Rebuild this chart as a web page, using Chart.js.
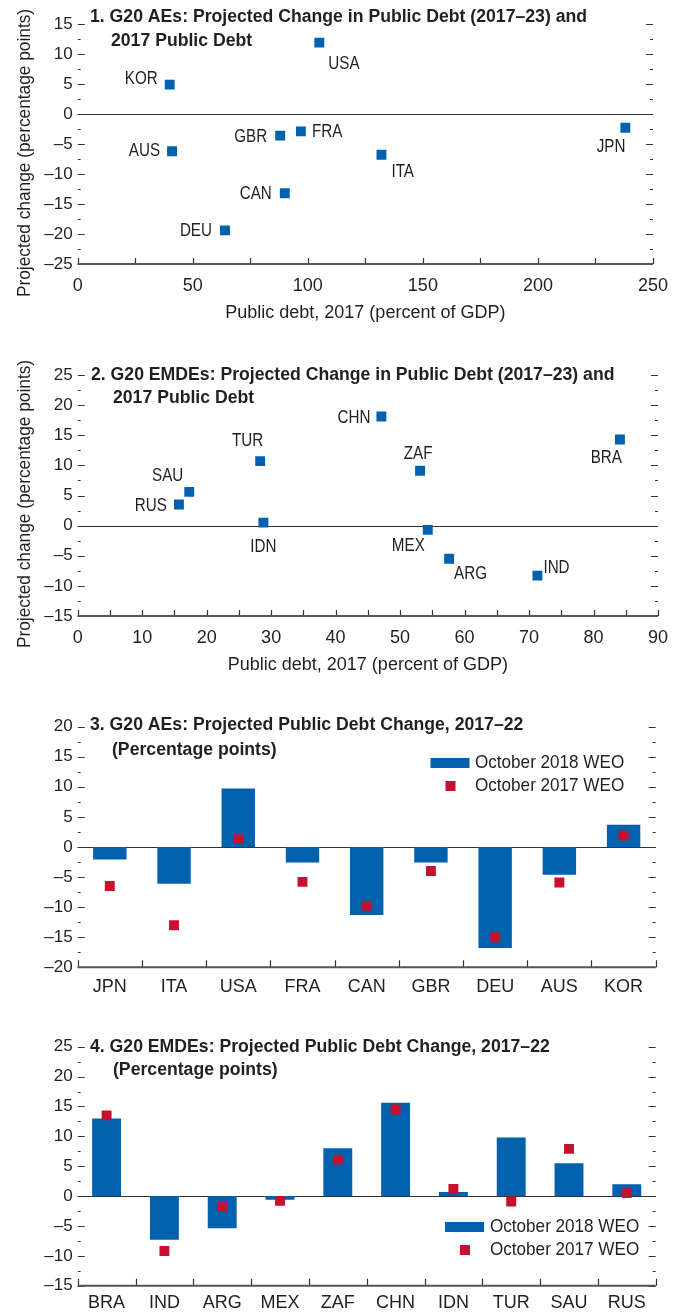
<!DOCTYPE html>
<html>
<head>
<meta charset="utf-8">
<script src="https://cdn.jsdelivr.net/npm/chart.js@4.4.0/dist/chart.umd.min.js"></script>
<style>
  body { margin: 0; background: #fff; width: 679px; height: 1312px; position: relative; overflow: hidden; }
  canvas { position: absolute; left: 0; }
</style>
</head>
<body>
<canvas id="aeScatter" width="679" height="330" style="top:0px"></canvas>
<canvas id="emScatter" width="679" height="360" style="top:330px"></canvas>
<canvas id="aeBars" width="679" height="320" style="top:690px"></canvas>
<canvas id="emBars" width="679" height="302" style="top:1010px"></canvas>
<script>
// panel 1: advanced economies, 2017 debt vs projected change 2017-23
const aeCountries = ['KOR', 'USA', 'AUS', 'GBR', 'FRA', 'CAN', 'DEU', 'ITA', 'JPN'];
const aeDebt2017 = [40, 105, 41, 88, 97, 90, 64, 132, 238];
const aeChange = [4.9, 11.9, -6.2, -3.6, -2.9, -13.2, -19.4, -6.8, -2.3];

// panel 2: emerging economies
const emCountries = ['RUS', 'SAU', 'TUR', 'IDN', 'CHN', 'ZAF', 'BRA', 'MEX', 'ARG', 'IND'];
const emDebt2017 = [15.7, 17.3, 28.3, 28.8, 47.1, 53.1, 84.1, 54.3, 57.6, 71.3];
const emChange = [3.5, 5.6, 10.7, 0.5, 18.1, 9.1, 14.3, -0.7, -5.5, -8.3];

// panel 3: AEs, projected change 2017-22, two WEO vintages
const aeBarCountries = ['JPN', 'ITA', 'USA', 'FRA', 'CAN', 'GBR', 'DEU', 'AUS', 'KOR'];
const aeWeo2018 = [-2.1, -6.1, 9.7, -2.6, -11.3, -2.6, -16.8, -4.6, 3.7];
const aeWeo2017 = [-6.5, -13.0, 1.3, -5.8, -9.8, -4.0, -15.0, -5.9, 1.9];

// panel 4: EMDEs, projected change 2017-22
const emBarCountries = ['BRA', 'IND', 'ARG', 'MEX', 'ZAF', 'CHN', 'IDN', 'TUR', 'SAU', 'RUS'];
const emWeo2018 = [13.0, -7.3, -5.4, -0.6, 8.0, 15.6, 0.7, 9.8, 5.5, 2.0];
const emWeo2017 = [13.5, -9.2, -1.8, -0.8, 6.1, 14.5, 1.2, -0.9, 7.9, 0.5];

const seriesNames = ['October 2018 WEO', 'October 2017 WEO'];

// where each country name sits relative to its marker: [dx, dy, align]
const aePlace = [[-12, -6, 'right'], [9, 21, 'left'], [-12, 0, 'right'], [-13, 1, 'right'], [11, 0, 'left'],
  [-13, 1, 'right'], [-13, 0, 'right'], [10, 17, 'left'], [0, 19, 'right']];
const emPlace = [[-12, 1, 'right'], [-6, -16, 'right'], [3, -20, 'right'], [0, 24, 'center'], [-11, 1, 'right'],
  [-2, -17, 'center'], [2, 18, 'right'], [-3, 16, 'right'], [5, 15, 'left'], [6, -8, 'left']];

const FONT = '"Liberation Sans", Arial, sans-serif';
const INK = '#231f20';
const BLUE = '#0061af';
const RED = '#c8102e';

Chart.defaults.font.family = FONT;
Chart.defaults.color = INK;

const dashMinus = (v) => (v < 0 ? '\u2013' + Math.abs(v) : String(v));

// the source uses a condensed face; squeeze our own text horizontally
function squeezed(ctx, text, x, y, align, sx, rot) {
  ctx.save();
  ctx.translate(x, y);
  if (rot) ctx.rotate(rot);
  ctx.scale(sx, 1);
  ctx.textAlign = align;
  ctx.fillText(text, 0, 0);
  ctx.restore();
}

// zero line, bottom rule and the little inward tick marks
function frame(cfg) {
  return {
    id: 'frame',
    beforeDatasetsDraw(chart) {
      const { ctx, chartArea: a, scales: { y } } = chart;
      const y0 = Math.round(y.getPixelForValue(0)) + 0.5;
      ctx.save();
      ctx.strokeStyle = '#333';
      ctx.lineWidth = 1.2;
      ctx.beginPath();
      ctx.moveTo(a.left, y0);
      ctx.lineTo(a.right, y0);
      ctx.stroke();
      ctx.restore();
    },
    afterDraw(chart) {
      const { ctx, chartArea: a, scales: { x, y } } = chart;
      ctx.save();
      ctx.strokeStyle = '#333';
      ctx.lineWidth = 1.2;
      ctx.beginPath();
      for (let v = y.min; v <= y.max + 1e-6; v += 2.5) {
        const py = Math.round(y.getPixelForValue(v)) + 0.5;
        const len = Math.abs(v % 5) < 1e-6 ? 7 : 3;
        ctx.moveTo(a.left, py); ctx.lineTo(a.left + len, py);
        ctx.moveTo(a.right, py); ctx.lineTo(a.right - len, py);
      }
      const xs = [];
      if (cfg.xMinor) {
        for (let v = x.min; v <= x.max + 1e-6; v += cfg.xMinor) xs.push(x.getPixelForValue(v));
      } else {
        for (let i = 0; i <= chart.data.labels.length; i++) xs.push(x.getPixelForValue(i - 0.5));
      }
      xs.forEach((px) => {
        px = Math.round(px) + 0.5;
        ctx.moveTo(px, a.bottom); ctx.lineTo(px, a.bottom - cfg.xTick);
      });
      ctx.stroke();
      ctx.strokeStyle = '#555';
      ctx.lineWidth = 2;
      ctx.beginPath();
      ctx.moveTo(a.left, a.bottom);
      ctx.lineTo(a.right, a.bottom);
      ctx.stroke();
      ctx.restore();
    }
  };
}

function panelTitle(lines) {
  return {
    id: 'panelTitle',
    afterDraw(chart) {
      const { ctx } = chart;
      ctx.save();
      ctx.font = 'bold 18px ' + FONT;
      ctx.fillStyle = INK;
      ctx.textBaseline = 'middle';
      lines.forEach(([text, x, y]) => squeezed(ctx, text, x, y, 'left', 0.98));
      ctx.restore();
    }
  };
}

function sideTitle(text, cx, cy) {
  return {
    id: 'sideTitle',
    afterDraw(chart) {
      const { ctx } = chart;
      ctx.save();
      ctx.font = '18px ' + FONT;
      ctx.fillStyle = INK;
      ctx.textBaseline = 'middle';
      squeezed(ctx, text, cx, cy, 'center', 0.96, -Math.PI / 2);
      ctx.restore();
    }
  };
}

function pointNames(place) {
  return {
    id: 'pointNames',
    afterDatasetsDraw(chart) {
      const { ctx } = chart;
      const names = chart.data.labels;
      ctx.save();
      ctx.font = '19px ' + FONT;
      ctx.fillStyle = INK;
      ctx.textBaseline = 'middle';
      chart.getDatasetMeta(0).data.forEach((pt, i) => {
        const [dx, dy, align] = place[i];
        squeezed(ctx, names[i], pt.x + dx, pt.y + dy, align, 0.8);
      });
      ctx.restore();
    }
  };
}

function weoLegend(pos) {
  return {
    id: 'weoLegend',
    afterDraw(chart) {
      const { ctx } = chart;
      const ds = chart.data.datasets;
      ctx.save();
      ctx.font = '19px ' + FONT;
      ctx.fillStyle = INK;
      ctx.textBaseline = 'middle';
      squeezed(ctx, ds[0].label, pos.textX, pos.y1, 'left', 0.9);
      squeezed(ctx, ds[1].label, pos.textX, pos.y2, 'left', 0.9);
      ctx.fillStyle = BLUE;
      ctx.fillRect(pos.boxX, pos.y1 - 5, 39, 10);
      ctx.fillStyle = RED;
      ctx.fillRect(pos.boxX + 15, pos.y2 - 5, 10, 10);
      ctx.restore();
    }
  };
}

function scatterPanel(id, names, debt, change, place, o) {
  new Chart(document.getElementById(id), {
    type: 'scatter',
    data: {
      labels: names,
      datasets: [{
        data: debt.map((x, i) => ({ x, y: change[i] })),
        backgroundColor: BLUE,
        borderWidth: 0,
        pointStyle: 'rect',
        pointRadius: 7,
        pointHoverRadius: 7
      }]
    },
    options: {
      responsive: false,
      animation: false,
      events: [],
      layout: { padding: { top: o.top, right: o.right, left: 0, bottom: 0 } },
      plugins: { legend: { display: false }, tooltip: { enabled: false } },
      scales: {
        x: {
          type: 'linear', min: 0, max: o.xMax,
          grid: { display: false, drawTicks: false }, border: { display: false },
          ticks: { stepSize: o.xStep, padding: 11, font: { size: 18 }, maxRotation: 0 },
          title: { display: true, text: 'Public debt, 2017 (percent of GDP)', font: { size: 18 }, padding: { top: 0, bottom: o.titleBottom } },
          afterFit: (s) => { s.height = o.xHeight; }
        },
        y: {
          min: o.yMin, max: o.yMax,
          grid: { display: false, drawTicks: false }, border: { display: false },
          ticks: { stepSize: 5, padding: 5, font: { size: 17 }, callback: dashMinus },
          afterFit: (s) => { s.width = 77.7; }
        }
      }
    },
    plugins: [frame({ xMinor: o.xMinor, xTick: 6 }), pointNames(place), panelTitle(o.title),
      sideTitle('Projected change (percentage points)', 25, o.yTitleY)]
  });
}

function barPanel(id, cats, v18, v17, o) {
  new Chart(document.getElementById(id), {
    data: {
      labels: cats,
      datasets: [
        { type: 'bar', label: seriesNames[0], data: v18, backgroundColor: BLUE, barPercentage: o.barPct, categoryPercentage: 1, order: 2 },
        { type: 'line', label: seriesNames[1], data: v17, showLine: false, pointStyle: 'rect', pointRadius: 7,
          pointHoverRadius: 7, pointBackgroundColor: RED, pointBorderWidth: 0, borderWidth: 0, order: 1 }
      ]
    },
    options: {
      responsive: false,
      animation: false,
      events: [],
      layout: { padding: { top: o.top, right: o.right, left: 0, bottom: 0 } },
      plugins: { legend: { display: false }, tooltip: { enabled: false } },
      scales: {
        x: {
          type: 'category', offset: true,
          grid: { display: false, drawTicks: false }, border: { display: false },
          ticks: { padding: o.labelPad, font: { size: 18 }, maxRotation: 0, autoSkip: false },
          afterFit: (s) => { s.height = o.xHeight; }
        },
        y: {
          min: o.yMin, max: o.yMax,
          grid: { display: false, drawTicks: false }, border: { display: false },
          ticks: { stepSize: 5, padding: 5, font: { size: 17 }, callback: dashMinus },
          afterFit: (s) => { s.width = 77.7; }
        }
      }
    },
    plugins: [frame({ xMinor: 0, xTick: 7 }), weoLegend(o.legend), panelTitle(o.title)]
  });
}

scatterPanel('aeScatter', aeCountries, aeDebt2017, aeChange, aePlace, {
  top: 24, right: 25, xMax: 250, xStep: 50, xMinor: 25, yMin: -25, yMax: 15, xHeight: 66, titleBottom: 6, yTitleY: 153,
  title: [['1. G20 AEs: Projected Change in Public Debt (2017\u201323) and', 90, 17], ['2017 Public Debt', 111, 41]]
});

scatterPanel('emScatter', emCountries, emDebt2017, emChange, emPlace, {
  top: 45, right: 19.7, xMax: 90, xStep: 10, xMinor: 5, yMin: -15, yMax: 25, xHeight: 74, titleBottom: 14, yTitleY: 174,
  title: [['2. G20 EMDEs: Projected Change in Public Debt (2017\u201323) and', 91, 45], ['2017 Public Debt', 113, 68]]
});

barPanel('aeBars', aeBarCountries, aeWeo2018, aeWeo2017, {
  top: 36.6, right: 23.3, yMin: -20, yMax: 20, xHeight: 42.7, labelPad: 9, barPct: 0.52,
  legend: { boxX: 430.5, textX: 475, y1: 73, y2: 96 },
  title: [['3. G20 AEs: Projected Public Debt Change, 2017\u201322', 90, 35], ['(Percentage points)', 112, 60]]
});

barPanel('emBars', emBarCountries, emWeo2018, emWeo2017, {
  top: 36.7, right: 23.3, yMin: -15, yMax: 25, xHeight: 26.3, labelPad: 7, barPct: 0.5,
  legend: { boxX: 445, textX: 490, y1: 217, y2: 240 },
  title: [['4. G20 EMDEs: Projected Public Debt Change, 2017\u201322', 90, 37], ['(Percentage points)', 113, 60]]
});
</script>
</body>
</html>
